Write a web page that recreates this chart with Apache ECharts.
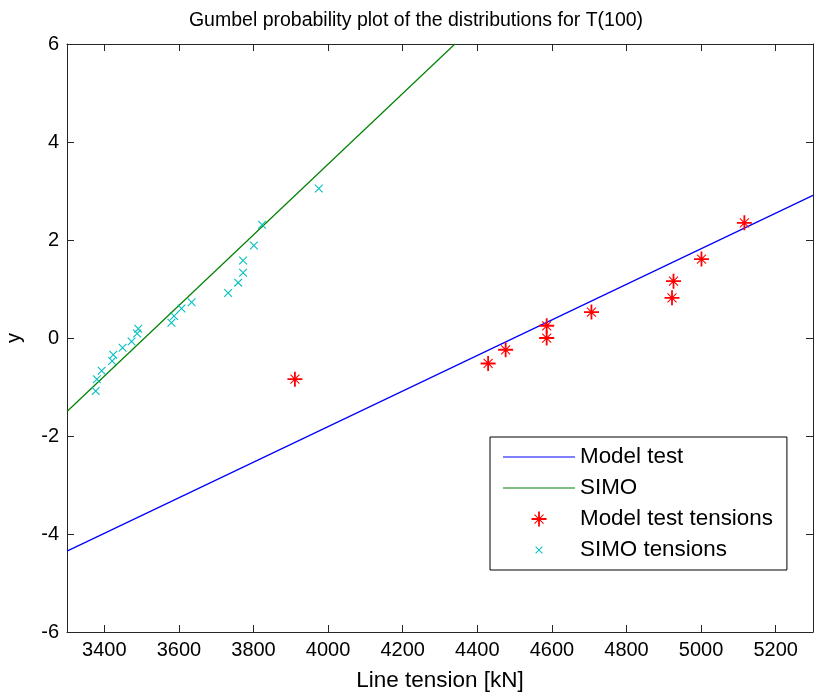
<!DOCTYPE html>
<html>
<head>
<meta charset="utf-8">
<script src="https://cdn.jsdelivr.net/npm/echarts@6/dist/echarts.min.js"></script>
<style>
html,body{margin:0;padding:0;background:#fff;}
#chart{width:814px;height:697px;}
</style>
</head>
<body>
<div id="chart"></div>
<script>
// ---- data ----
const titleText = 'Gumbel probability plot of the distributions for T(100)';
const xName = 'Line tension [kN]';
const yName = 'y';
const xTicks = [3400, 3600, 3800, 4000, 4200, 4400, 4600, 4800, 5000, 5200];
const yTicks = [-6, -4, -2, 0, 2, 4, 6];
const seriesNames = ['Model test', 'SIMO', 'Model test tensions', 'SIMO tensions'];

const modelLineX = [3300, 5300];
const modelLineY = [-4.35, 2.91];
const simoLineX = [3300, 4340];
const simoLineY = [-1.5, 6.0];

const modelTensionX = [3911, 4429, 4476, 4586, 4586, 4706, 4922, 4926, 5001, 5116];
const modelTensionY = [-0.84, -0.52, -0.24, 0.0, 0.25, 0.53, 0.82, 1.16, 1.61, 2.35];

const simoTensionX = [3377, 3380, 3393, 3421, 3424, 3449, 3473, 3488, 3491, 3580, 3587, 3607, 3634, 3732, 3759, 3772, 3772, 3801, 3823, 3975];
const simoTensionY = [-1.08, -0.84, -0.67, -0.47, -0.34, -0.20, -0.07, 0.09, 0.19, 0.31, 0.45, 0.60, 0.73, 0.92, 1.13, 1.33, 1.58, 1.89, 2.31, 3.05];

// ---- helpers ----
const zip = (xs, ys) => xs.map((x, i) => [x, ys[i]]);
const FONT = '"Liberation Sans", Arial, sans-serif';
const AX = '#262626';

// star (asterisk) and cross symbols as filled paths in a 0..20 box
const starPath = 'path://M8.8 0 L11.2 0 L11.2 20 L8.8 20 Z M0 8.8 L20 8.8 L20 11.2 L0 11.2 Z ' +
  'M3.5 4.5 L4.5 3.5 L16.5 15.5 L15.5 16.5 Z M15.5 3.5 L16.5 4.5 L4.5 16.5 L3.5 15.5 Z ' +
  'M7.8 7.8 L12.2 7.8 L12.2 12.2 L7.8 12.2 Z';
const crossPath = 'path://M0 0 M20 20 M5 5.9 L5.9 5 L15 14.1 L14.1 15 Z M14.1 5 L15 5.9 L5.9 15 L5 14.1 Z';
const lineIcon = 'path://M0 0 L70 0 L70 1.2 L0 1.2 Z';

const chart = echarts.init(document.getElementById('chart'), null, {renderer: 'canvas'});

const option = {
  backgroundColor: '#ffffff',
  animation: false,
  title: {
    text: titleText,
    left: 411,
    textAlign: 'center',
    top: 6,
    textStyle: {fontFamily: FONT, fontSize: 19.5, fontWeight: 'normal', color: '#000'}
  },
  grid: {left: 67, right: 1, top: 44, bottom: 65, containLabel: false, outerBoundsMode: 'none'},
  legend: {
    orient: 'vertical',
    left: 490,
    top: 437,
    padding: [9, 14, 9, 13],
    itemGap: 9,
    itemWidth: 72,
    itemHeight: 15,
    backgroundColor: '#ffffff',
    borderColor: '#000',
    borderWidth: 1,
    borderRadius: 0,
    textStyle: {fontFamily: FONT, fontSize: 22.4, color: '#000'},
    data: [
      {name: seriesNames[0], icon: lineIcon},
      {name: seriesNames[1], icon: lineIcon},
      {name: seriesNames[2]},
      {name: seriesNames[3]}
    ]
  },
  xAxis: [{
    type: 'value', position: 'bottom',
    min: 3300, max: 5300,
    name: xName, nameLocation: 'middle', nameGap: 37,
    nameTextStyle: {fontFamily: FONT, fontSize: 22.5, color: '#000'},
    axisLine: {show: true, onZero: false, lineStyle: {color: AX, width: 1}},
    axisTick: {show: true, inside: true, length: 7, customValues: xTicks, lineStyle: {color: AX}},
    axisLabel: {show: true, margin: 8, customValues: xTicks, formatter: v => String(v), fontFamily: FONT, fontSize: 20, color: '#000'},
    splitLine: {show: false}
  }, {
    type: 'value', position: 'top',
    min: 3300, max: 5300,
    axisLine: {show: true, onZero: false, lineStyle: {color: AX, width: 1}},
    axisTick: {show: true, inside: true, length: 7, customValues: xTicks, lineStyle: {color: AX}},
    axisLabel: {show: false},
    splitLine: {show: false}
  }],
  yAxis: [{
    type: 'value', position: 'left',
    min: -6, max: 6, interval: 2,
    name: yName, nameLocation: 'middle', nameGap: 43, nameRotate: 90,
    nameTextStyle: {fontFamily: FONT, fontSize: 20, color: '#000'},
    axisLine: {show: true, onZero: false, lineStyle: {color: AX, width: 1}},
    axisTick: {show: true, inside: true, length: 7, customValues: yTicks, lineStyle: {color: AX}},
    axisLabel: {show: true, margin: 8, customValues: yTicks, formatter: v => String(v), fontFamily: FONT, fontSize: 20, color: '#000'},
    splitLine: {show: false}
  }, {
    type: 'value', position: 'right',
    min: -6, max: 6, interval: 2,
    axisLine: {show: true, onZero: false, lineStyle: {color: AX, width: 1}},
    axisTick: {show: true, inside: true, length: 7, customValues: yTicks, lineStyle: {color: AX}},
    axisLabel: {show: false},
    splitLine: {show: false}
  }],
  series: [
    {
      name: seriesNames[0], type: 'line', xAxisIndex: 0, yAxisIndex: 0,
      data: zip(modelLineX, modelLineY),
      showSymbol: false, symbol: 'none',
      lineStyle: {color: '#0000ff', width: 1.2},
      itemStyle: {color: '#0000ff'},
      clip: true, z: 2
    },
    {
      name: seriesNames[1], type: 'line', xAxisIndex: 0, yAxisIndex: 0,
      data: zip(simoLineX, simoLineY),
      showSymbol: false, symbol: 'none',
      lineStyle: {color: '#008000', width: 1.2},
      itemStyle: {color: '#008000'},
      clip: true, z: 2
    },
    {
      name: seriesNames[2], type: 'scatter', xAxisIndex: 0, yAxisIndex: 0,
      data: zip(modelTensionX, modelTensionY),
      symbol: starPath, symbolSize: 15,
      itemStyle: {color: '#ff0000', opacity: 1},
      z: 3
    },
    {
      name: seriesNames[3], type: 'scatter', xAxisIndex: 0, yAxisIndex: 0,
      data: zip(simoTensionX, simoTensionY),
      symbol: crossPath, symbolSize: 17,
      itemStyle: {color: '#00bfbf', opacity: 1},
      z: 3
    }
  ]
};
chart.setOption(option);
</script>
</body>
</html>
